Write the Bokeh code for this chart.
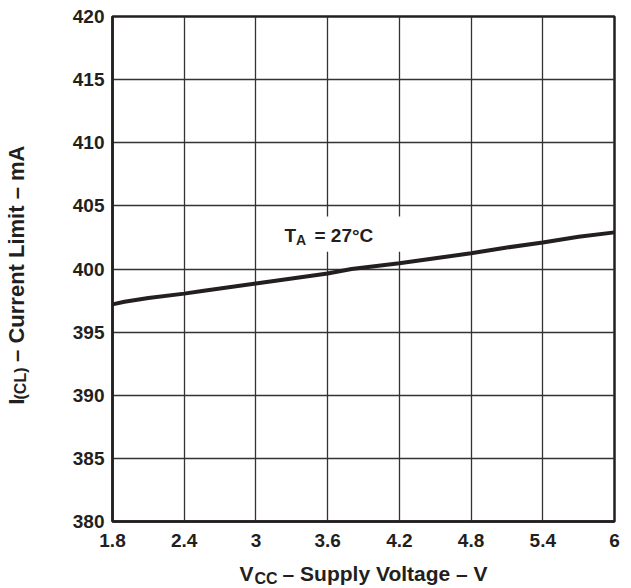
from bokeh.plotting import figure
from bokeh.models import Range1d, FixedTicker, Label, BoxAnnotation, Title
from bokeh.embed import file_html
from bokeh.resources import INLINE

# ---- data ----
vcc = [1.8, 1.9, 2.1, 2.4, 2.55, 3.0, 3.3, 3.6, 3.8, 4.2, 4.5, 4.8, 5.1, 5.4, 5.7, 6.0]
i_cl = [397.2, 397.4, 397.7, 398.05, 398.25, 398.85, 399.25, 399.65, 400.0,
        400.45, 400.85, 401.25, 401.7, 402.1, 402.55, 402.9]
x_ticks = [1.8, 2.4, 3.0, 3.6, 4.2, 4.8, 5.4, 6.0]
x_tick_labels = ["1.8", "2.4", "3", "3.6", "4.2", "4.8", "5.4", "6"]
y_ticks = [380, 385, 390, 395, 400, 405, 410, 415, 420]
y_tick_labels = [str(v) for v in y_ticks]

FONT = "Liberation Sans"
INK = "#231f20"
NB = "\u00a0"   # room for the subscripts

p = figure(width=630, height=587, output_backend="svg", toolbar_location=None,
           x_range=Range1d(1.8, 6.0), y_range=Range1d(380, 420),
           min_border_left=111, min_border_right=16, min_border_top=16, min_border_bottom=65)
p.background_fill_color = "white"
p.border_fill_color = "white"
p.outline_line_color = INK
p.outline_line_width = 2.5

for ax, ticks, labels in ((p.xaxis, x_ticks, x_tick_labels), (p.yaxis, y_ticks, y_tick_labels)):
    ax.ticker = FixedTicker(ticks=ticks)
    ax.major_label_overrides = {t: l for t, l in zip(ticks, labels)}
    ax.major_tick_out = 0
    ax.major_tick_in = 0
    ax.minor_tick_out = 0
    ax.minor_tick_in = 0
    ax.axis_line_color = INK
    ax.axis_line_width = 2.5
    ax.major_label_text_font = FONT
    ax.major_label_text_font_style = "bold"
    ax.major_label_text_font_size = "19px"
    ax.major_label_text_color = INK
    ax.axis_label_text_font = FONT
    ax.axis_label_text_font_style = "bold"
    ax.axis_label_text_color = INK
p.xaxis.major_label_standoff = 12
p.yaxis.major_label_standoff = 8

# axis titles (subscripts added below as separate texts)
p.xaxis.axis_label = "V" + NB * 5 + "– Supply Voltage – V"
p.xaxis.axis_label_text_font_size = "21px"
p.xaxis.axis_label_standoff = 12
p.yaxis.axis_label = "I" + NB * 6 + "– Current Limit – mA" + NB * 2
p.yaxis.axis_label_text_font_size = "22px"
p.yaxis.axis_label_standoff = 41

p.xgrid.ticker = FixedTicker(ticks=x_ticks)
p.ygrid.ticker = FixedTicker(ticks=y_ticks)
for g in (p.xgrid, p.ygrid):
    g.grid_line_color = "#333333"
    g.grid_line_width = 1.3
    g.grid_line_alpha = 1.0

p.line(vcc, i_cl, line_color=INK, line_width=4)

# subscripts of the axis titles
p.add_layout(Title(text="CC", align="left", offset=142, vertical_align="top", standoff=-36,
                   text_font=FONT, text_font_style="bold", text_font_size="16px",
                   text_color=INK), "below")
p.add_layout(Title(text="(CL)", align="left", offset=122, vertical_align="bottom", standoff=-56,
                   text_font=FONT, text_font_style="bold", text_font_size="16px",
                   text_color=INK), "left")

# white box behind the annotation text
p.add_layout(BoxAnnotation(left=3.19, right=4.25, bottom=401.37, top=404.15,
                           fill_color="white", fill_alpha=1.0, line_color=None))

def lab(text, sx, sy, size):
    p.add_layout(Label(x=sx, y=sy, x_units="screen", y_units="screen", text=text,
                       text_font=FONT, text_font_style="bold", text_font_size=size,
                       text_color=INK, text_align="left", text_baseline="alphabetic"))

# curve annotation: T_A = 27°C
lab("T", 172, 286, "19px")
lab("A", 183.6, 282, "14px")
lab("= 27°C", 202, 286, "19px")

open("out.html", "w").write(file_html(p, INLINE))
